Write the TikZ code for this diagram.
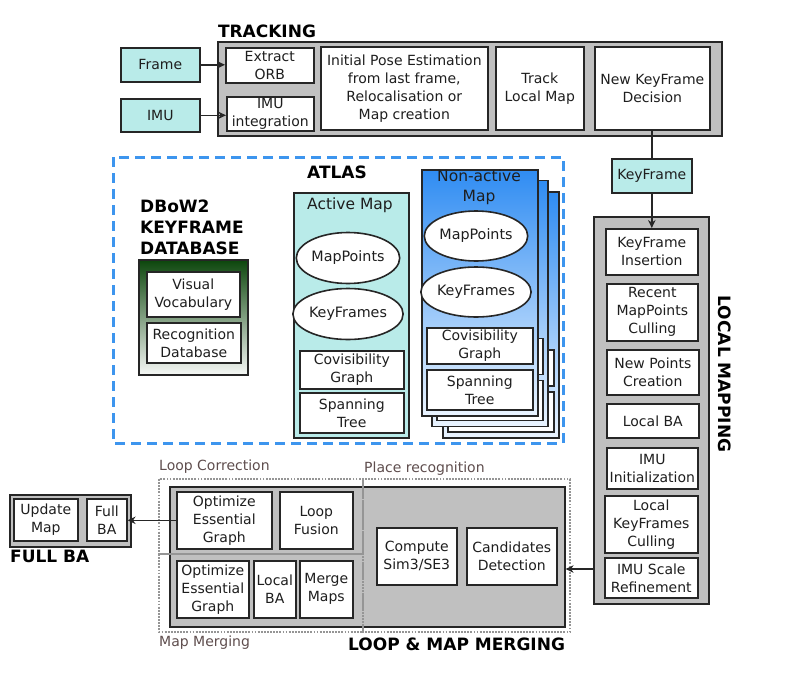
\documentclass[tikz,border=0pt]{standalone}
\usepackage{fontspec}
\setmainfont{DejaVu Sans}
\usetikzlibrary{shapes.geometric,arrows.meta}
\definecolor{teal1}{HTML}{B9EBE9}
\definecolor{gfill}{HTML}{C0C0C0}
\definecolor{edge}{HTML}{262626}
\definecolor{atlasblue}{HTML}{3D95EE}
\definecolor{lblbrown}{HTML}{5E4D4D}
\definecolor{dotgray}{HTML}{959595}
\definecolor{dkgreen}{HTML}{0C460C}
\definecolor{dbwhite}{HTML}{F6F8F6}
\definecolor{nablue}{HTML}{2F8CF2}
\definecolor{nalight}{HTML}{EAF4FF}
\definecolor{txt}{HTML}{1E1E1E}
\tikzset{
  bx/.style={draw=edge, fill=white, line width=1.6pt, inner sep=0pt, align=center,
             font=\fontsize{14}{18}\selectfont, text=txt},
  grp/.style={draw=edge, fill=gfill, line width=1.6pt},
  tealbox/.style={fill=teal1},
  ell/.style={ellipse, draw=edge, fill=white, line width=1.6pt, inner sep=0pt,
              font=\fontsize{14.3}{18}\selectfont, text=txt},
  ttl/.style={inner sep=0pt, font=\fontsize{17}{21}\selectfont\bfseries, text=black, align=left},
  maplbl/.style={inner sep=0pt, font=\fontsize{15.5}{20}\selectfont, text=txt, align=center},
  sublbl/.style={inner sep=0pt, font=\fontsize{14}{18}\selectfont, text=lblbrown},
  dotbox/.style={draw=dotgray, line width=2.5pt, dash pattern=on 1.8pt off 1.3pt},
  arr/.style={draw=edge, line width=1.6pt, -{Stealth[length=8pt,width=7.5pt]}},
  conn/.style={draw=edge, line width=1.6pt},
  nashade/.style={draw=edge, line width=1.6pt, top color=nablue, bottom color=nalight},
}
\newcommand\Bx[7][]{\node[bx,#1,anchor=north west,minimum width=#5pt-#3pt,minimum height=#6pt-#4pt] (#2) at (#3,#4) {#7};}
\begin{document}
\begin{tikzpicture}[x=1pt,y=-1pt]
\useasboundingbox (0,0) rectangle (800,672);

% ---------------- TRACKING ----------------
\node[ttl] (trkttl) at (267,31) {TRACKING};
\Bx[grp]{trk}{217}{41}{721}{135}{}
\Bx[tealbox]{frame}{120}{47}{199}{81}{Frame}
\Bx[tealbox]{imu}{120}{98}{199}{131}{IMU}
\Bx{orb}{225}{47}{313}{82}{Extract\\ORB}
\Bx{imuint}{226}{96}{313}{130}{IMU\\integration}
\Bx{ipe}{320}{46}{487}{129}{Initial Pose Estimation\\from last frame,\\Relocalisation or\\Map creation}
\Bx{tlm}{495}{46}{583}{129}{Track\\Local Map}
\Bx{nkf}{594}{46}{709}{129}{New KeyFrame\\Decision}
\draw[arr] (frame.east) -- (frame.east -| orb.west);
\draw[arr] (imu.east) -- (imu.east -| imuint.west);

\Bx[tealbox]{keyframe}{611}{158}{691}{192}{KeyFrame}
\draw[conn] (keyframe.north) -- (keyframe.north |- nkf.south);

% ---------------- LOCAL MAPPING ----------------
\Bx[grp]{lm}{593}{216}{708}{603}{}
\Bx{kfi}{605}{228}{697}{274}{KeyFrame\\Insertion}
\Bx{rmc}{606}{283}{697}{340}{Recent\\MapPoints\\Culling}
\Bx{npc}{606}{349}{698}{394}{New Points\\Creation}
\Bx{lba}{606}{403}{698}{437}{Local BA}
\Bx{imuinit}{606}{447}{697}{488}{IMU\\Initialization}
\Bx{lkc}{604}{495}{697}{552}{Local\\KeyFrames\\Culling}
\Bx{isr}{604}{557}{697}{597}{IMU Scale\\Refinement}
\node[ttl, rotate=-90] (lmttl) at (725,374) {LOCAL MAPPING};
\draw[arr] (keyframe.south) -- (kfi.north);

% ---------------- ATLAS ----------------
\draw[draw=atlasblue, line width=3pt, dash pattern=on 10pt off 6pt] (113,157) rectangle (563,443);
\node[ttl] (atlasttl) at (337,172) {ATLAS};
\node[ttl, anchor=west] (dbttl) at (140,227) {DBoW2\\KEYFRAME\\DATABASE};
\Bx[top color=dkgreen, bottom color=dbwhite]{db}{138}{259}{247}{374}{}
\Bx{vv}{146}{271}{239}{316}{Visual\\Vocabulary}
\Bx{rd}{146}{322}{240}{362}{Recognition\\Database}

\Bx[tealbox]{active}{293}{192}{408}{437}{}
\node[maplbl] (activelbl) at (350,205) {Active Map};
\node[ell, minimum width=97pt, minimum height=51pt] (mp1) at (348,258) {MapPoints};
\node[ell, minimum width=97pt, minimum height=51pt] (kf1) at (348,314) {KeyFrames};
\Bx{cg1}{299}{350}{403}{388}{Covisibility\\Graph}
\Bx{st1}{299}{392}{403}{432}{Spanning\\Tree}

% non-active stack (back copies)
\foreach \s in {2,1}{
  \begin{scope}[shift={(\s*11,\s*11.5)}]
    \draw[nashade] (421,169) rectangle (537,415);
    \draw[draw=edge, fill=white, line width=1.6pt] (426,327) rectangle (532,363);
    \draw[draw=edge, fill=white, line width=1.6pt] (426,369) rectangle (532,409);
  \end{scope}
}
\Bx[nashade]{nonactive}{421}{169}{537}{415}{}
\node[maplbl] (nalbl) at (479,187) {Non-active\\Map};
\node[ell, minimum width=100pt, minimum height=50pt] (mp2) at (476,236) {MapPoints};
\node[ell, minimum width=100pt, minimum height=50pt] (kf2) at (476,292) {KeyFrames};
\Bx{cg2}{426}{327}{532}{363}{Covisibility\\Graph}
\Bx{st2}{426}{369}{532}{409}{Spanning\\Tree}

% ---------------- LOOP & MAP MERGING ----------------
\Bx[grp]{loop}{169}{486}{564}{626}{}
\draw[dotbox] (159,479) rectangle (363,554);
\draw[dotbox] (159,554) rectangle (363,632);
\draw[dotbox] (363,479) rectangle (570,632);
\node[sublbl, anchor=west] (lclbl) at (159,467) {Loop Correction};
\node[sublbl, anchor=west] (prlbl) at (364,469) {Place recognition};
\node[sublbl, anchor=west] (mmlbl) at (159,643) {Map Merging};
\node[ttl, anchor=west] (lmmttl) at (348,644) {LOOP \& MAP MERGING};
\Bx{oeg1}{176}{491}{271}{548}{Optimize\\Essential\\Graph}
\Bx{lf}{279}{491}{352}{548}{Loop\\Fusion}
\Bx{oeg2}{176}{560}{248}{617}{Optimize\\Essential\\Graph}
\Bx{lba2}{253}{560}{295}{617}{Local\\BA}
\Bx{mm}{299}{560}{352}{617}{Merge\\Maps}
\Bx{cs}{376}{527}{456}{584}{Compute\\Sim3/SE3}
\Bx{cd}{466}{527}{556}{584}{Candidates\\Detection}

% ---------------- FULL BA ----------------
\Bx[grp]{fullba}{9}{494}{130}{546}{}
\Bx{um}{13}{498}{77}{540}{Update\\Map}
\Bx{fba}{86}{498}{126}{540}{Full\\BA}
\node[ttl, anchor=west] (fbattl) at (10,556) {FULL BA};

\coordinate (lmy) at (0,569);
\draw[arr] (lm.west |- lmy) -- (loop.east |- lmy);
\draw[arr] (oeg1.west) -- (oeg1.west -| fba.east);
\end{tikzpicture}
\end{document}
